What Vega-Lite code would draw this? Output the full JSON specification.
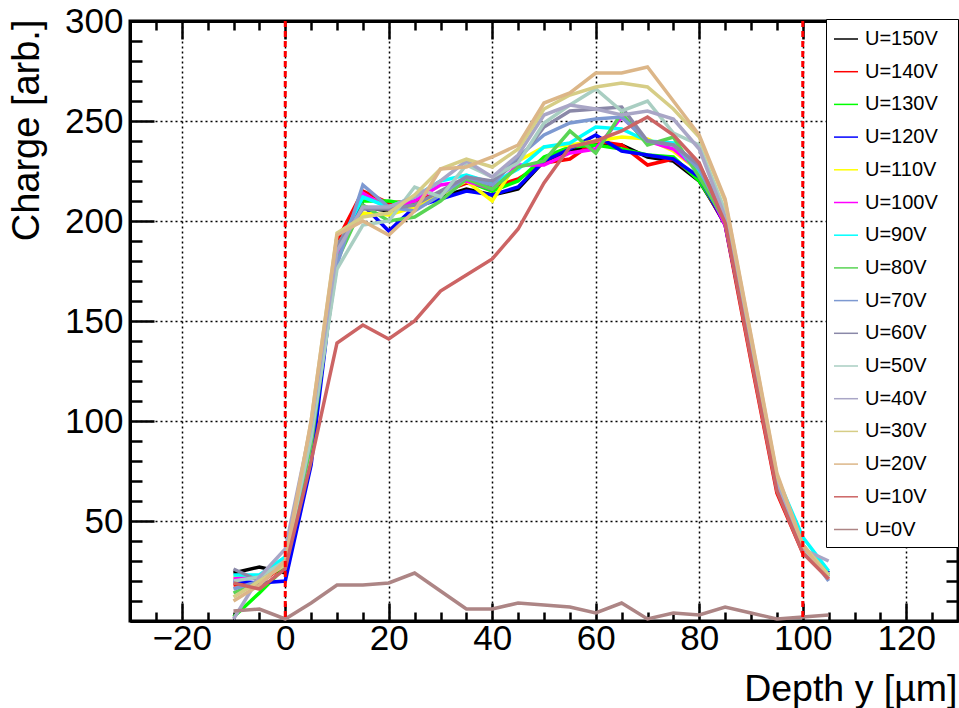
{
  "$schema": "https://vega.github.io/schema/vega-lite/v6.json",
  "width": 828,
  "height": 600,
  "autosize": {"type": "none"},
  "padding": {"left": 130, "top": 21, "right": 1, "bottom": 87},
  "background": "white",
  "config": {"view": {"stroke": "black", "strokeWidth": 3}, "font": "Liberation Sans"},
  "datasets": {
    "curves": [
      {"s":"U=150V","x":-10,"y":24},{"s":"U=150V","x":-5,"y":27},{"s":"U=150V","x":0,"y":24},{"s":"U=150V","x":5,"y":92},{"s":"U=150V","x":10,"y":192},{"s":"U=150V","x":15,"y":207},{"s":"U=150V","x":20,"y":205},{"s":"U=150V","x":25,"y":207},{"s":"U=150V","x":30,"y":212},{"s":"U=150V","x":35,"y":216},{"s":"U=150V","x":40,"y":213},{"s":"U=150V","x":45,"y":216},{"s":"U=150V","x":50,"y":230},{"s":"U=150V","x":55,"y":235},{"s":"U=150V","x":60,"y":238},{"s":"U=150V","x":65,"y":238},{"s":"U=150V","x":70,"y":232},{"s":"U=150V","x":75,"y":230},{"s":"U=150V","x":80,"y":220},{"s":"U=150V","x":85,"y":199},{"s":"U=150V","x":90,"y":135},{"s":"U=150V","x":95,"y":66},{"s":"U=150V","x":100,"y":35},{"s":"U=150V","x":105,"y":24},
      {"s":"U=140V","x":-10,"y":18},{"s":"U=140V","x":-5,"y":19},{"s":"U=140V","x":0,"y":28},{"s":"U=140V","x":5,"y":95},{"s":"U=140V","x":10,"y":190},{"s":"U=140V","x":15,"y":215},{"s":"U=140V","x":20,"y":209},{"s":"U=140V","x":25,"y":210},{"s":"U=140V","x":30,"y":214},{"s":"U=140V","x":35,"y":219},{"s":"U=140V","x":40,"y":217},{"s":"U=140V","x":45,"y":221},{"s":"U=140V","x":50,"y":229},{"s":"U=140V","x":55,"y":231},{"s":"U=140V","x":60,"y":240},{"s":"U=140V","x":65,"y":238},{"s":"U=140V","x":70,"y":228},{"s":"U=140V","x":75,"y":231},{"s":"U=140V","x":80,"y":221},{"s":"U=140V","x":85,"y":198},{"s":"U=140V","x":90,"y":130},{"s":"U=140V","x":95,"y":64},{"s":"U=140V","x":100,"y":34},{"s":"U=140V","x":105,"y":23},
      {"s":"U=130V","x":-10,"y":2},{"s":"U=130V","x":-5,"y":14},{"s":"U=130V","x":0,"y":27},{"s":"U=130V","x":5,"y":90},{"s":"U=130V","x":10,"y":182},{"s":"U=130V","x":15,"y":210},{"s":"U=130V","x":20,"y":210},{"s":"U=130V","x":25,"y":208},{"s":"U=130V","x":30,"y":213},{"s":"U=130V","x":35,"y":220},{"s":"U=130V","x":40,"y":215},{"s":"U=130V","x":45,"y":220},{"s":"U=130V","x":50,"y":232},{"s":"U=130V","x":55,"y":237},{"s":"U=130V","x":60,"y":238},{"s":"U=130V","x":65,"y":236},{"s":"U=130V","x":70,"y":233},{"s":"U=130V","x":75,"y":232},{"s":"U=130V","x":80,"y":220},{"s":"U=130V","x":85,"y":200},{"s":"U=130V","x":90,"y":135},{"s":"U=130V","x":95,"y":68},{"s":"U=130V","x":100,"y":36},{"s":"U=130V","x":105,"y":23},
      {"s":"U=120V","x":-10,"y":20},{"s":"U=120V","x":-5,"y":19},{"s":"U=120V","x":0,"y":20},{"s":"U=120V","x":5,"y":78},{"s":"U=120V","x":10,"y":186},{"s":"U=120V","x":15,"y":208},{"s":"U=120V","x":20,"y":195},{"s":"U=120V","x":25,"y":207},{"s":"U=120V","x":30,"y":211},{"s":"U=120V","x":35,"y":215},{"s":"U=120V","x":40,"y":213},{"s":"U=120V","x":45,"y":217},{"s":"U=120V","x":50,"y":230},{"s":"U=120V","x":55,"y":236},{"s":"U=120V","x":60,"y":243},{"s":"U=120V","x":65,"y":235},{"s":"U=120V","x":70,"y":233},{"s":"U=120V","x":75,"y":231},{"s":"U=120V","x":80,"y":222},{"s":"U=120V","x":85,"y":198},{"s":"U=120V","x":90,"y":134},{"s":"U=120V","x":95,"y":66},{"s":"U=120V","x":100,"y":35},{"s":"U=120V","x":105,"y":24},
      {"s":"U=110V","x":-10,"y":22},{"s":"U=110V","x":-5,"y":22},{"s":"U=110V","x":0,"y":30},{"s":"U=110V","x":5,"y":95},{"s":"U=110V","x":10,"y":188},{"s":"U=110V","x":15,"y":204},{"s":"U=110V","x":20,"y":203},{"s":"U=110V","x":25,"y":207},{"s":"U=110V","x":30,"y":213},{"s":"U=110V","x":35,"y":220},{"s":"U=110V","x":40,"y":210},{"s":"U=110V","x":45,"y":230},{"s":"U=110V","x":50,"y":237},{"s":"U=110V","x":55,"y":238},{"s":"U=110V","x":60,"y":240},{"s":"U=110V","x":65,"y":242},{"s":"U=110V","x":70,"y":241},{"s":"U=110V","x":75,"y":235},{"s":"U=110V","x":80,"y":225},{"s":"U=110V","x":85,"y":200},{"s":"U=110V","x":90,"y":137},{"s":"U=110V","x":95,"y":68},{"s":"U=110V","x":100,"y":36},{"s":"U=110V","x":105,"y":22},
      {"s":"U=100V","x":-10,"y":21},{"s":"U=100V","x":-5,"y":22},{"s":"U=100V","x":0,"y":29},{"s":"U=100V","x":5,"y":92},{"s":"U=100V","x":10,"y":183},{"s":"U=100V","x":15,"y":214},{"s":"U=100V","x":20,"y":206},{"s":"U=100V","x":25,"y":210},{"s":"U=100V","x":30,"y":218},{"s":"U=100V","x":35,"y":220},{"s":"U=100V","x":40,"y":216},{"s":"U=100V","x":45,"y":228},{"s":"U=100V","x":50,"y":228},{"s":"U=100V","x":55,"y":234},{"s":"U=100V","x":60,"y":236},{"s":"U=100V","x":65,"y":252},{"s":"U=100V","x":70,"y":240},{"s":"U=100V","x":75,"y":236},{"s":"U=100V","x":80,"y":225},{"s":"U=100V","x":85,"y":198},{"s":"U=100V","x":90,"y":136},{"s":"U=100V","x":95,"y":67},{"s":"U=100V","x":100,"y":37},{"s":"U=100V","x":105,"y":21},
      {"s":"U=90V","x":-10,"y":23},{"s":"U=90V","x":-5,"y":23},{"s":"U=90V","x":0,"y":32},{"s":"U=90V","x":5,"y":95},{"s":"U=90V","x":10,"y":186},{"s":"U=90V","x":15,"y":212},{"s":"U=90V","x":20,"y":207},{"s":"U=90V","x":25,"y":212},{"s":"U=90V","x":30,"y":220},{"s":"U=90V","x":35,"y":223},{"s":"U=90V","x":40,"y":219},{"s":"U=90V","x":45,"y":226},{"s":"U=90V","x":50,"y":237},{"s":"U=90V","x":55,"y":239},{"s":"U=90V","x":60,"y":247},{"s":"U=90V","x":65,"y":246},{"s":"U=90V","x":70,"y":240},{"s":"U=90V","x":75,"y":239},{"s":"U=90V","x":80,"y":224},{"s":"U=90V","x":85,"y":201},{"s":"U=90V","x":90,"y":140},{"s":"U=90V","x":95,"y":72},{"s":"U=90V","x":100,"y":42},{"s":"U=90V","x":105,"y":25},
      {"s":"U=80V","x":-10,"y":14},{"s":"U=80V","x":-5,"y":20},{"s":"U=80V","x":0,"y":30},{"s":"U=80V","x":5,"y":88},{"s":"U=80V","x":10,"y":180},{"s":"U=80V","x":15,"y":208},{"s":"U=80V","x":20,"y":200},{"s":"U=80V","x":25,"y":202},{"s":"U=80V","x":30,"y":210},{"s":"U=80V","x":35,"y":221},{"s":"U=80V","x":40,"y":216},{"s":"U=80V","x":45,"y":227},{"s":"U=80V","x":50,"y":230},{"s":"U=80V","x":55,"y":245},{"s":"U=80V","x":60,"y":234},{"s":"U=80V","x":65,"y":254},{"s":"U=80V","x":70,"y":238},{"s":"U=80V","x":75,"y":242},{"s":"U=80V","x":80,"y":222},{"s":"U=80V","x":85,"y":200},{"s":"U=80V","x":90,"y":137},{"s":"U=80V","x":95,"y":70},{"s":"U=80V","x":100,"y":38},{"s":"U=80V","x":105,"y":23},
      {"s":"U=70V","x":-10,"y":16},{"s":"U=70V","x":-5,"y":20},{"s":"U=70V","x":0,"y":30},{"s":"U=70V","x":5,"y":92},{"s":"U=70V","x":10,"y":178},{"s":"U=70V","x":15,"y":218},{"s":"U=70V","x":20,"y":207},{"s":"U=70V","x":25,"y":205},{"s":"U=70V","x":30,"y":213},{"s":"U=70V","x":35,"y":222},{"s":"U=70V","x":40,"y":218},{"s":"U=70V","x":45,"y":232},{"s":"U=70V","x":50,"y":243},{"s":"U=70V","x":55,"y":249},{"s":"U=70V","x":60,"y":251},{"s":"U=70V","x":65,"y":252},{"s":"U=70V","x":70,"y":240},{"s":"U=70V","x":75,"y":238},{"s":"U=70V","x":80,"y":226},{"s":"U=70V","x":85,"y":201},{"s":"U=70V","x":90,"y":138},{"s":"U=70V","x":95,"y":70},{"s":"U=70V","x":100,"y":38},{"s":"U=70V","x":105,"y":20},
      {"s":"U=60V","x":-10,"y":26},{"s":"U=60V","x":-5,"y":20},{"s":"U=60V","x":0,"y":29},{"s":"U=60V","x":5,"y":95},{"s":"U=60V","x":10,"y":188},{"s":"U=60V","x":15,"y":206},{"s":"U=60V","x":20,"y":206},{"s":"U=60V","x":25,"y":208},{"s":"U=60V","x":30,"y":215},{"s":"U=60V","x":35,"y":222},{"s":"U=60V","x":40,"y":220},{"s":"U=60V","x":45,"y":230},{"s":"U=60V","x":50,"y":247},{"s":"U=60V","x":55,"y":255},{"s":"U=60V","x":60,"y":256},{"s":"U=60V","x":65,"y":257},{"s":"U=60V","x":70,"y":240},{"s":"U=60V","x":75,"y":238},{"s":"U=60V","x":80,"y":228},{"s":"U=60V","x":85,"y":203},{"s":"U=60V","x":90,"y":137},{"s":"U=60V","x":95,"y":69},{"s":"U=60V","x":100,"y":37},{"s":"U=60V","x":105,"y":22},
      {"s":"U=50V","x":-10,"y":20},{"s":"U=50V","x":-5,"y":22},{"s":"U=50V","x":0,"y":30},{"s":"U=50V","x":5,"y":92},{"s":"U=50V","x":10,"y":176},{"s":"U=50V","x":15,"y":198},{"s":"U=50V","x":20,"y":200},{"s":"U=50V","x":25,"y":217},{"s":"U=50V","x":30,"y":212},{"s":"U=50V","x":35,"y":228},{"s":"U=50V","x":40,"y":222},{"s":"U=50V","x":45,"y":229},{"s":"U=50V","x":50,"y":249},{"s":"U=50V","x":55,"y":258},{"s":"U=50V","x":60,"y":266},{"s":"U=50V","x":65,"y":255},{"s":"U=50V","x":70,"y":260},{"s":"U=50V","x":75,"y":244},{"s":"U=50V","x":80,"y":238},{"s":"U=50V","x":85,"y":205},{"s":"U=50V","x":90,"y":140},{"s":"U=50V","x":95,"y":72},{"s":"U=50V","x":100,"y":37},{"s":"U=50V","x":105,"y":22},
      {"s":"U=40V","x":-10,"y":1},{"s":"U=40V","x":-5,"y":22},{"s":"U=40V","x":0,"y":36},{"s":"U=40V","x":5,"y":98},{"s":"U=40V","x":10,"y":185},{"s":"U=40V","x":15,"y":207},{"s":"U=40V","x":20,"y":207},{"s":"U=40V","x":25,"y":212},{"s":"U=40V","x":30,"y":220},{"s":"U=40V","x":35,"y":230},{"s":"U=40V","x":40,"y":222},{"s":"U=40V","x":45,"y":233},{"s":"U=40V","x":50,"y":253},{"s":"U=40V","x":55,"y":258},{"s":"U=40V","x":60,"y":256},{"s":"U=40V","x":65,"y":253},{"s":"U=40V","x":70,"y":255},{"s":"U=40V","x":75,"y":251},{"s":"U=40V","x":80,"y":236},{"s":"U=40V","x":85,"y":202},{"s":"U=40V","x":90,"y":140},{"s":"U=40V","x":95,"y":70},{"s":"U=40V","x":100,"y":36},{"s":"U=40V","x":105,"y":30},
      {"s":"U=30V","x":-10,"y":12},{"s":"U=30V","x":-5,"y":20},{"s":"U=30V","x":0,"y":28},{"s":"U=30V","x":5,"y":100},{"s":"U=30V","x":10,"y":194},{"s":"U=30V","x":15,"y":202},{"s":"U=30V","x":20,"y":204},{"s":"U=30V","x":25,"y":213},{"s":"U=30V","x":30,"y":226},{"s":"U=30V","x":35,"y":231},{"s":"U=30V","x":40,"y":227},{"s":"U=30V","x":45,"y":236},{"s":"U=30V","x":50,"y":256},{"s":"U=30V","x":55,"y":263},{"s":"U=30V","x":60,"y":267},{"s":"U=30V","x":65,"y":269},{"s":"U=30V","x":70,"y":267},{"s":"U=30V","x":75,"y":256},{"s":"U=30V","x":80,"y":242},{"s":"U=30V","x":85,"y":210},{"s":"U=30V","x":90,"y":142},{"s":"U=30V","x":95,"y":73},{"s":"U=30V","x":100,"y":38},{"s":"U=30V","x":105,"y":23},
      {"s":"U=20V","x":-10,"y":10},{"s":"U=20V","x":-5,"y":18},{"s":"U=20V","x":0,"y":30},{"s":"U=20V","x":5,"y":100},{"s":"U=20V","x":10,"y":193},{"s":"U=20V","x":15,"y":200},{"s":"U=20V","x":20,"y":193},{"s":"U=20V","x":25,"y":205},{"s":"U=20V","x":30,"y":226},{"s":"U=20V","x":35,"y":227},{"s":"U=20V","x":40,"y":232},{"s":"U=20V","x":45,"y":238},{"s":"U=20V","x":50,"y":259},{"s":"U=20V","x":55,"y":264},{"s":"U=20V","x":60,"y":274},{"s":"U=20V","x":65,"y":274},{"s":"U=20V","x":70,"y":277},{"s":"U=20V","x":75,"y":260},{"s":"U=20V","x":80,"y":243},{"s":"U=20V","x":85,"y":211},{"s":"U=20V","x":90,"y":143},{"s":"U=20V","x":95,"y":74},{"s":"U=20V","x":100,"y":38},{"s":"U=20V","x":105,"y":21},
      {"s":"U=10V","x":-10,"y":19},{"s":"U=10V","x":-5,"y":16},{"s":"U=10V","x":0,"y":26},{"s":"U=10V","x":5,"y":80},{"s":"U=10V","x":10,"y":139},{"s":"U=10V","x":15,"y":148},{"s":"U=10V","x":20,"y":141},{"s":"U=10V","x":25,"y":150},{"s":"U=10V","x":30,"y":165},{"s":"U=10V","x":35,"y":173},{"s":"U=10V","x":40,"y":181},{"s":"U=10V","x":45,"y":196},{"s":"U=10V","x":50,"y":219},{"s":"U=10V","x":55,"y":237},{"s":"U=10V","x":60,"y":240},{"s":"U=10V","x":65,"y":245},{"s":"U=10V","x":70,"y":252},{"s":"U=10V","x":75,"y":243},{"s":"U=10V","x":80,"y":229},{"s":"U=10V","x":85,"y":199},{"s":"U=10V","x":90,"y":131},{"s":"U=10V","x":95,"y":65},{"s":"U=10V","x":100,"y":34},{"s":"U=10V","x":105,"y":21},
      {"s":"U=0V","x":-10,"y":5},{"s":"U=0V","x":-5,"y":6},{"s":"U=0V","x":0,"y":1},{"s":"U=0V","x":5,"y":9},{"s":"U=0V","x":10,"y":18},{"s":"U=0V","x":15,"y":18},{"s":"U=0V","x":20,"y":19},{"s":"U=0V","x":25,"y":24},{"s":"U=0V","x":30,"y":15},{"s":"U=0V","x":35,"y":6},{"s":"U=0V","x":40,"y":6},{"s":"U=0V","x":45,"y":9},{"s":"U=0V","x":50,"y":8},{"s":"U=0V","x":55,"y":7},{"s":"U=0V","x":60,"y":4},{"s":"U=0V","x":65,"y":9},{"s":"U=0V","x":70,"y":1},{"s":"U=0V","x":75,"y":4},{"s":"U=0V","x":80,"y":3},{"s":"U=0V","x":85,"y":7},{"s":"U=0V","x":90,"y":4},{"s":"U=0V","x":95,"y":1},{"s":"U=0V","x":100,"y":2},{"s":"U=0V","x":105,"y":3}
    ],
    "edges": [{"x": 0}, {"x": 100}]
  },
  "data": {"name": "curves"},
  "layer": [
    {
      "mark": {"type": "line", "strokeWidth": 3.5, "strokeJoin": "miter"},
      "encoding": {
        "x": {
          "field": "x", "type": "quantitative",
          "scale": {"domain": [-30, 130], "nice": false, "zero": false},
          "axis": {
            "orient": "bottom",
            "values": [-30,-25,-20,-15,-10,-5,0,5,10,15,20,25,30,35,40,45,50,55,60,65,70,75,80,85,90,95,100,105,110,115,120,125,130],
            "domain": true, "domainColor": "black", "domainWidth": 3,
            "ticks": true, "tickColor": "black", "tickWidth": 2.5,
            "tickSize": {"condition": {"test": "datum.value % 20 === 0", "value": -18}, "value": -9},
            "grid": true, "gridColor": "black", "gridWidth": 1.5, "gridDash": [2, 3],
            "gridOpacity": {"condition": {"test": "datum.value % 20 === 0", "value": 1}, "value": 0},
            "labelExpr": "datum.value % 20 === 0 ? (datum.value < 0 ? '\u2212' + abs(datum.value) : datum.label) : ''",
            "labelFont": "Liberation Sans", "labelFontSize": 35, "labelColor": "black", "labelPadding": 18,
            "labelFlush": false, "labelOverlap": false,
            "title": "Depth y [\u00b5m]", "titleFont": "Liberation Sans", "titleFontSize": 37.5, "titleFontWeight": "normal", "titleColor": "black",
            "titleAnchor": "end", "titleAlign": "right", "titleBaseline": "alphabetic", "titleX": 827, "titleY": 79
          }
        },
        "y": {
          "field": "y", "type": "quantitative",
          "scale": {"domain": [0, 300], "nice": false, "zero": false},
          "axis": {
            "orient": "left",
            "values": [0,10,20,30,40,50,60,70,80,90,100,110,120,130,140,150,160,170,180,190,200,210,220,230,240,250,260,270,280,290,300],
            "domain": true, "domainColor": "black", "domainWidth": 3,
            "ticks": true, "tickColor": "black", "tickWidth": 2.5,
            "tickSize": {"condition": {"test": "datum.value % 50 === 0", "value": -24}, "value": -12},
            "grid": true, "gridColor": "black", "gridWidth": 1.5, "gridDash": [2, 3],
            "gridOpacity": {"condition": {"test": "datum.value % 50 === 0", "value": 1}, "value": 0},
            "labelExpr": "datum.value % 50 === 0 && datum.value > 0 ? datum.label : ''",
            "labelFont": "Liberation Sans", "labelFontSize": 35, "labelColor": "black", "labelPadding": 31,
            "labelFlush": false, "labelOverlap": false,
            "title": "Charge [arb.]", "titleFont": "Liberation Sans", "titleFontSize": 38, "titleFontWeight": "normal", "titleColor": "black",
            "titleAnchor": "end", "titleAngle": -90, "titleAlign": "right", "titleBaseline": "alphabetic", "titleX": -92, "titleY": -2
          }
        },
        "color": {
          "field": "s", "type": "nominal", "sort": null,
          "scale": {
            "domain": ["U=150V","U=140V","U=130V","U=120V","U=110V","U=100V","U=90V","U=80V","U=70V","U=60V","U=50V","U=40V","U=30V","U=20V","U=10V","U=0V"],
            "range": ["#000000","#ff0000","#00ff00","#0000ff","#ffff00","#ff00ff","#00ffff","#59d454","#7d99d1","#8a88a8","#a9cec2","#a9a6c6","#d6cd86","#dcb688","#cc6464","#ad8585"]
          },
          "legend": {
            "orient": "none", "legendX": 696, "legendY": -2,
            "title": "M", "titleOrient": "right", "titleColor": "white", "titleFontSize": 4, "titlePadding": 9,
            "symbolType": "stroke", "symbolSize": 576, "symbolStrokeWidth": 1.5,
            "labelFont": "Liberation Sans", "labelFontSize": 20, "labelColor": "black", "labelOffset": 6,
            "fillColor": "white", "strokeColor": "black", "padding": 7, "rowPadding": 9.7
          }
        }
      }
    },
    {
      "data": {"name": "edges"},
      "mark": {"type": "rule", "color": "#ff0000", "strokeWidth": 3, "strokeDash": [6, 4]},
      "encoding": {
        "x": {"field": "x", "type": "quantitative", "scale": {"domain": [-30, 130], "nice": false, "zero": false}, "axis": null}
      }
    },
    {
      "mark": {"type": "point", "opacity": 0, "size": 1},
      "encoding": {
        "x": {
          "field": "x", "type": "quantitative",
          "scale": {"domain": [-30, 130], "nice": false, "zero": false},
          "axis": {
            "orient": "top", "title": null, "labels": false, "grid": false,
            "values": [-30,-25,-20,-15,-10,-5,0,5,10,15,20,25,30,35,40,45,50,55,60,65,70,75,80,85,90,95,100,105,110,115,120,125,130],
            "domain": true, "domainColor": "black", "domainWidth": 3,
            "tickColor": "black", "tickWidth": 2.5,
            "tickSize": {"condition": {"test": "datum.value % 20 === 0", "value": -18}, "value": -9}
          }
        },
        "y": {
          "field": "y", "type": "quantitative",
          "scale": {"domain": [0, 300], "nice": false, "zero": false},
          "axis": {
            "orient": "right", "title": null, "labels": false, "grid": false,
            "values": [0,10,20,30,40,50,60,70,80,90,100,110,120,130,140,150,160,170,180,190,200,210,220,230,240,250,260,270,280,290,300],
            "domain": true, "domainColor": "black", "domainWidth": 3,
            "tickColor": "black", "tickWidth": 2.5,
            "tickSize": {"condition": {"test": "datum.value % 50 === 0", "value": -24}, "value": -12}
          }
        }
      }
    }
  ],
  "resolve": {"axis": {"x": "independent", "y": "independent"}}
}
